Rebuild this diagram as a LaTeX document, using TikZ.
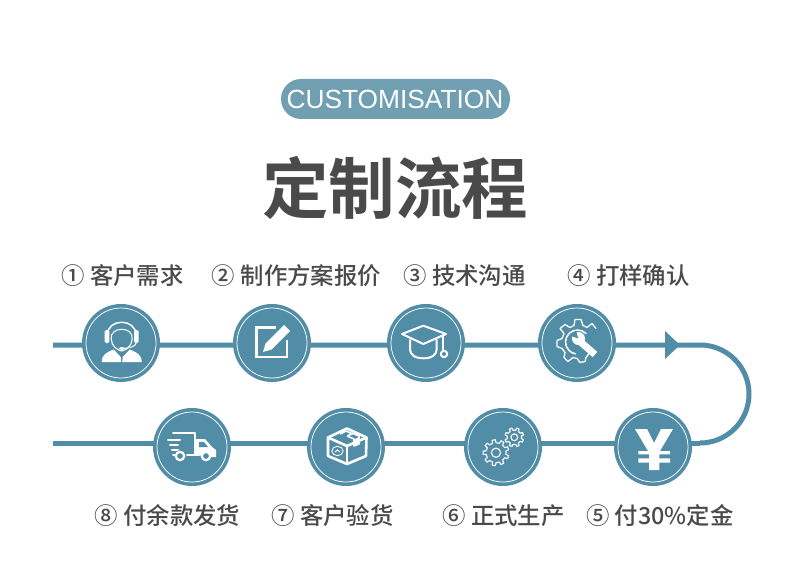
\documentclass[tikz,border=0pt]{standalone}
\usepackage{fontspec}
\setmainfont{Liberation Sans}
\newfontfamily\cjk{Noto Sans CJK SC Medium}
\newfontfamily\cjkb{Noto Sans CJK SC Bold}
\definecolor{teal1}{HTML}{518DA6}
\definecolor{pill}{HTML}{6F9FB1}
\definecolor{ink}{HTML}{4A4A4A}
\tikzset{
  disc/.style={circle,fill=teal1,minimum size=78pt,inner sep=0pt,outer sep=0pt},
  route/.style={draw=teal1,line width=5pt},
  ring/.style={draw=white,line width=0.75pt},
  ic/.style={draw=white,line width=1.6pt,line join=round,line cap=round},
  lab/.style={font=\cjk\fontsize{23.4}{23.4}\selectfont,text=ink,inner sep=0pt,anchor=center},
}
\newcommand{\gearpath}[5]{% center, rout, rin, n, hole
  \begin{scope}[shift={(#1)}]
  \pgfmathsetmacro{\stp}{360/#4}
  \draw[ic,line width=1.1pt] (0:#3) \foreach \k in {1,...,#4}{
     -- ({(\k-1)*\stp+0.24*\stp}:#3) -- ({(\k-1)*\stp+0.32*\stp}:#2) -- ({(\k-1)*\stp+0.68*\stp}:#2) -- ({(\k-1)*\stp+0.76*\stp}:#3) } -- cycle;
  \draw[ic,line width=1.1pt] (0,0) circle (#5);
  \end{scope}}
\begin{document}
\begin{tikzpicture}[x=1pt,y=-1pt]
\useasboundingbox (0,0) rectangle (790,564);
\fill[white] (0,0) rectangle (790,564);
% pill and title
\node[fill=pill,rounded corners=20pt,minimum width=229pt,minimum height=40pt,inner sep=0pt] (pill) at (395.5,99) {};
\node[text=white,font=\fontsize{26.3}{26.3}\selectfont,inner sep=0pt] (pilltext) at (395,99) {CUSTOMISATION};
\node[text=ink,font=\cjkb\fontsize{66.5}{66.5}\selectfont,inner sep=0pt] (title) at (395,188) {定制流程};
% discs
\foreach \n/\x/\y in {c1/121/343,c2/272/343,c3/426/343,c4/577/343,c5/653/447,c6/503/447,c7/346/447,c8/192/447}{
  \coordinate (\n) at (\x,\y);
}
% route
\coordinate (sa) at (53,345);
\coordinate (sb) at (53,443);
\coordinate (tip) at (680,345);
\coordinate (up) at (700,345);
\coordinate (lo) at (700,443);
\draw[route] (sa) -- (sa -| c1) -- (sa -| c2) -- (sa -| c3) -- (sa -| c4) -- (up)
   arc[start angle=-90,end angle=90,radius=49] ;
\draw[route] (lo) -- (sb -| c5) -- (sb -| c6) -- (sb -| c7) -- (sb -| c8) -- (sb);
\fill[teal1] (665,331) -- (tip) -- (665,359) -- cycle;
\foreach \n in {c1,c2,c3,c4,c5,c6,c7,c8}{
  \node[disc] (d\n) at (\n) {};
  \draw[ring] (\n) circle (35);
}
% icon 1 headset
\begin{scope}[shift={(c1)},xshift=0.7pt]
 \draw[ic,line width=1.5pt] (-14.3,-8) .. controls (-14.3,-25) and (14.3,-25) .. (14.3,-8);
 \fill[white,rounded corners=1.5pt] (-17,-13) rectangle (-12.4,0);
 \fill[white,rounded corners=1.5pt] (12.4,-13) rectangle (17,0);
 \draw[ic,line width=1.1pt] (-10.5,-4) .. controls (-10,3) and (-5,7) .. (0,8) .. controls (5,7) and (10,3) .. (10.5,-4);
 \draw[ic,line width=1pt] (-10.5,-4) .. controls (-12,-17) and (12,-17) .. (10.5,-4);
 \draw[ic,line width=1pt] (14.5,0) .. controls (14,3.5) and (8,5) .. (1,5.5);
 \fill[white] (0,5.5) ellipse (2.8 and 1.4);
 \fill[white] (-20,19) .. controls (-20,11) and (-14,9) .. (-8,6.5) -- (-1,14) -- (-0.5,19) -- cycle;
 \fill[white] (20,19) .. controls (20,11) and (14,9) .. (8,6.5) -- (1,14) -- (0.5,19) -- cycle;
\end{scope}
% icon 2 note and pencil
\begin{scope}[shift={(c2)}]
 \draw[white,line width=2.6pt] (4,-15.7) -- (-15.7,-15.7) -- (-15.7,14) -- (15,14) -- (15,-3);
 \draw[teal1,line width=12pt] (-4,3) -- (15,-16);
 \fill[white] (-9,9) -- (-6.5,0.5) -- (9,-15) -- (12,-18) -- (18,-12) -- (15,-9) -- (-0.5,6.5) -- cycle;
\end{scope}
% icon 3 cap
\begin{scope}[shift={(c3)}]
 \draw[ic,line width=2pt] (-24,-9) -- (-2.7,-17.3) -- (20,-9) -- (-2.7,1) -- cycle;
 \draw[ic,line width=2pt] (-16,-3) -- (-16,5) .. controls (-16,13) and (-10,15.3) .. (-2.7,15.3) .. controls (5,15.3) and (10.7,13) .. (10.7,5) -- (10.7,-3);
 \draw[ic,line width=1.6pt] (17,-7) -- (17,7);
 \draw[ic,line width=2pt] (18,11) circle (3.2);
\end{scope}
% icon 4 gear and wrench
\begin{scope}[shift={(c4)},yshift=-0.5pt]
 \draw[ic,line width=1.3pt] (12,10) -- (9,14) -- (8,18) -- (3,19) -- (0,15) -- (-4,14) -- (-9,18) -- (-13,14) -- (-12,9) -- (-15,5) -- (-20,3) -- (-20,-3) -- (-15,-5) -- (-13,-10) -- (-17,-15) -- (-12,-19) -- (-7,-16) -- (-3,-18) -- (-2,-24) -- (4,-24) -- (6,-18) -- (10,-16) -- (15,-20) -- (19,-15);
 \draw[ic,line width=1.5pt] (9,-10) arc[start angle=-45,delta angle=-215,radius=12];
 \draw[white,line width=7pt] (3,-2) -- (18,11);
 \fill[white] (1.5,-5) circle (6.5);
 \fill[teal1] (1.2,-5) -- (-1,-13) -- (-6,-7.5) -- cycle;
\end{scope}
% icon 5 yen
\begin{scope}[shift={(c5)}]
 \fill[white] (-18,-18) -- (-6,-18) -- (1,-4) -- (8,-18) -- (20,-18) -- (7,4) -- (17,4) -- (17,7.3) -- (6.3,7.3) -- (6.3,11.3) -- (17,11.3) -- (17,15.7) -- (6.3,15.7) -- (6.3,23) -- (-4,23) -- (-4,15.7) -- (-14.7,15.7) -- (-14.7,11.3) -- (-4,11.3) -- (-4,7.3) -- (-14.7,7.3) -- (-14.7,4) -- (-5,4) -- cycle;
\end{scope}
% icon 6 gears
\begin{scope}[shift={(c6)}]
 \gearpath{-7,5.7}{13}{10}{9}{4.6}
 \gearpath{11.3,-9.7}{9.5}{7.2}{8}{3.4}
\end{scope}
% icon 7 box
\begin{scope}[shift={(c7)}]
 \draw[white,line width=2.6pt,line join=round] (1,-18.5) -- (20.5,-9.5) -- (20,9) -- (1,17) -- (-18,9) -- (-18,-9.5) -- cycle;
 \draw[white,line width=2.6pt,line join=round] (-18,-9.5) -- (1,-1) -- (20.5,-9.5);
 \draw[white,line width=2.6pt] (1,-1) -- (1,17);
 \draw[white,line width=1.6pt,line join=round] (-6,-13) -- (0,-16) -- (6.5,-13.2) -- (2,-11.5);
 \draw[white,line width=1.6pt,line join=round] (6,-14) -- (13,-11) -- (13,-3) -- (8,-1) -- (8,-8) -- (1,-11);
 \fill[white] (8,-7.5) -- (13,-10) -- (13,-3) -- (8,-1) -- cycle;
 \draw[white,line width=0.9pt] (-8.5,4) ellipse (5.7 and 4.7);
 \draw[white,line width=1pt] (-11,5) -- (-8.5,3) -- (-6,5);
\end{scope}
% icon 8 truck
\begin{scope}[shift={(c8)}]
 \draw[ic,line width=2pt] (-19,-14) -- (3.3,-14) -- (3.3,8) -- (-5,8);
 \draw[ic,line width=2pt] (-24,-7) -- (-12,-7);
 \draw[ic,line width=2pt] (-22,-2) -- (-14,-2);
 \draw[ic,line width=2pt] (-20,3) -- (-14,3);
 \draw[ic,line width=2pt] (-17,8) -- (-19,8);
 \fill[white] (3,-8) -- (13,-8) -- (20,0) -- (24,3) -- (24,10) -- (19,10) -- (19,8) -- (3,9) -- cycle;
 \fill[teal1] (7,-5) -- (12,-5) -- (16,0) -- (7,0) -- cycle;
 \draw[white,line width=2.2pt,fill=teal1] (-12,9) circle (4.2);
 \draw[white,line width=2.2pt,fill=teal1] (14,9) circle (4.2);
\end{scope}
% labels
\node[lab] (l1) at (122.5,276) {① 客户需求};
\node[lab] (l2) at (296.5,276) {② 制作方案报价};
\node[lab] (l3) at (464.5,276) {③ 技术沟通};
\node[lab] (l4) at (628.5,276) {④ 打样确认};
\node[lab] (l5) at (660,516) {⑤ 付30\%定金};
\node[lab] (l6) at (503.5,516) {⑥ 正式生产};
\node[lab] (l7) at (332.5,516) {⑦ 客户验货};
\node[lab] (l8) at (167.5,516) {⑧ 付余款发货};
\end{tikzpicture}
\end{document}
